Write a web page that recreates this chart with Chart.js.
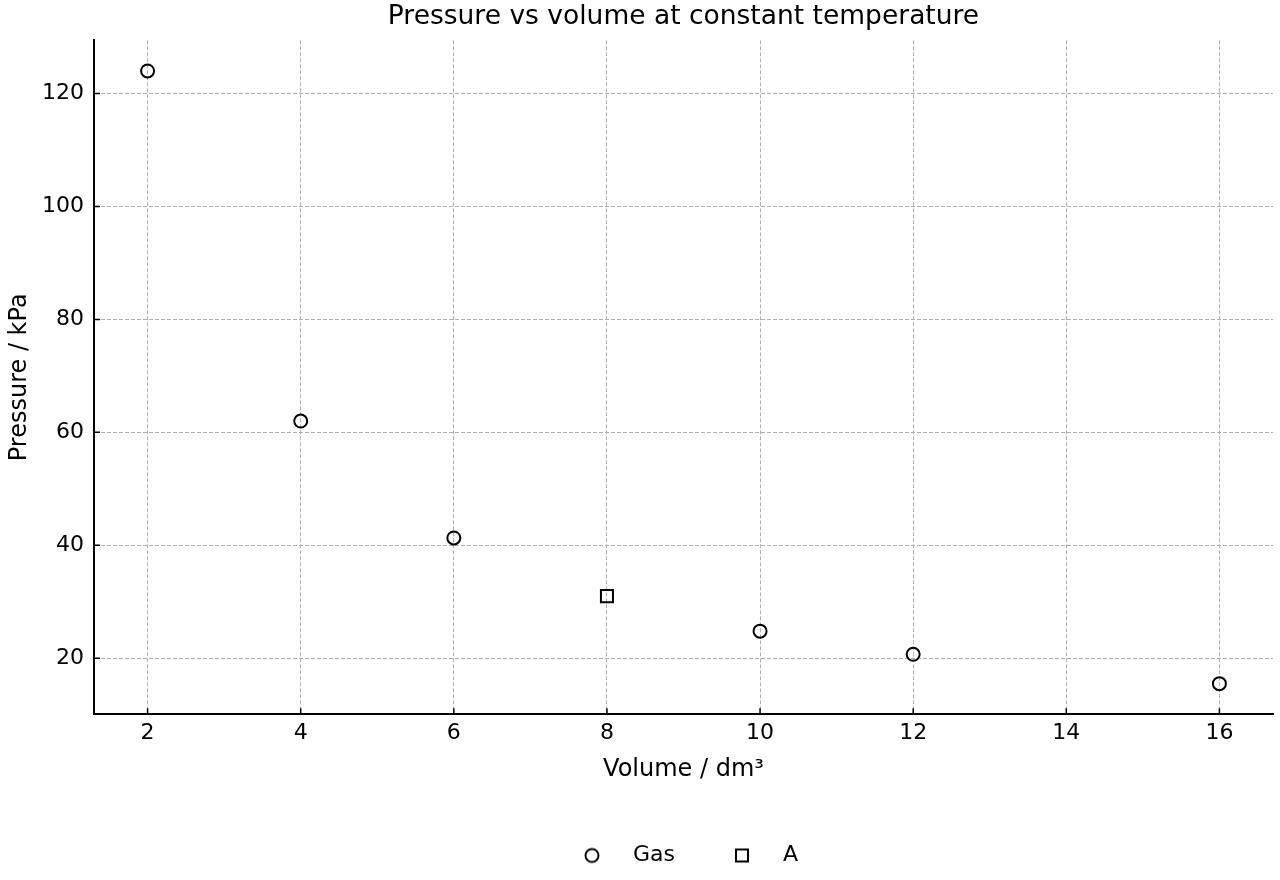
<!DOCTYPE html>
<html>
<head>
<meta charset="utf-8">
<title>Pressure vs volume</title>
<script src="https://cdn.jsdelivr.net/npm/chart.js@4/dist/chart.umd.min.js"></script>
<style>
  html, body { margin: 0; padding: 0; background: #fff; }
  #wrap { width: 1280px; height: 880px; }
</style>
</head>
<body>
<div id="wrap"><canvas id="chart" width="1280" height="880"></canvas></div>
<script>
// data
const volumes = [2, 4, 6, 10, 12, 16];
const pressures = [124, 62, 41.3, 24.8, 20.7, 15.5];
const pointAVolume = [8];
const pointAPressure = [31];
const xTickValues = [2, 4, 6, 8, 10, 12, 14, 16];
const yTickValues = [20, 40, 60, 80, 100, 120];

(function(){
    "use strict";

    const font = 'DejaVu Sans';

    // small marker images for the legend
    function markerImage(shape) {
        const c = document.createElement('canvas');
        c.width = 18; c.height = 18;
        const g = c.getContext('2d');
        g.strokeStyle = '#000';
        g.lineWidth = 2;
        g.beginPath();
        if (shape === 'circle') {
            g.arc(9, 9, 6.5, 0, Math.PI * 2);
        } else {
            g.rect(3, 3, 12, 12);
        }
        g.stroke();
        return c;
    }
    const legendCircle = markerImage('circle');
    const legendSquare = markerImage('square');

    // center title and legend over the plot area, like the original
    const centerOnPlot = {
        id: 'centerOnPlot',
        afterLayout(chart) {
            const a = chart.chartArea;
            const t = chart.titleBlock, l = chart.legend;
            if (t) { t.left = a.left; t.right = a.right; t.width = a.right - a.left; }
            if (l) { l.left = a.left - 7; l.right = a.right; l.width = l.right - l.left; }
        }
    };

    // matplotlib style ticks pointing into the plot
    const inwardTicks = {
        id: 'inwardTicks',
        afterDraw(chart) {
            const ctx = chart.ctx;
            const x = chart.scales.x, y = chart.scales.y;
            const area = chart.chartArea;
            ctx.save();
            ctx.strokeStyle = '#000';
            ctx.lineWidth = 1.5;
            ctx.beginPath();
            x.ticks.forEach(t => {
                const px = x.getPixelForValue(t.value);
                ctx.moveTo(px, area.bottom);
                ctx.lineTo(px, area.bottom - 6);
            });
            y.ticks.forEach(t => {
                const py = y.getPixelForValue(t.value);
                ctx.moveTo(area.left, py);
                ctx.lineTo(area.left + 6, py);
            });
            ctx.stroke();
            ctx.restore();
        }
    };

    const gasPoints = volumes.map((v, i) => ({ x: v, y: pressures[i] }));
    const aPoints = pointAVolume.map((v, i) => ({ x: v, y: pointAPressure[i] }));

    new Chart(document.getElementById('chart'), {
        type: 'scatter',
        data: {
            datasets: [{
                label: 'Gas',
                data: gasPoints,
                pointStyle: 'circle',
                pointRadius: 6.5,
                pointHoverRadius: 6.5,
                borderWidth: 2,
                borderColor: '#000',
                backgroundColor: 'rgba(0,0,0,0)'
            }, {
                label: 'A',
                data: aPoints,
                pointStyle: 'rect',
                pointRadius: 8.5,
                pointHoverRadius: 8.5,
                borderWidth: 2,
                borderColor: '#000',
                backgroundColor: 'rgba(0,0,0,0)'
            }]
        },
        options: {
            responsive: false,
            animation: false,
            layout: { autoPadding: false, padding: { left: 0, right: 7, top: 0, bottom: 3.5 } },
            plugins: {
                tooltip: { enabled: false },
                title: {
                    display: true,
                    text: 'Pressure vs volume at constant temperature',
                    color: '#000',
                    font: { family: font, size: 26.5, weight: 'normal' },
                    padding: { top: 1.5, bottom: 7 }
                },
                legend: {
                    position: 'bottom',
                    labels: {
                        color: '#000',
                        font: { family: font, size: 22 },
                        usePointStyle: true,
                        pointStyleWidth: 60,
                        padding: 37,
                        generateLabels: function(chart) {
                            return chart.data.datasets.map((ds, i) => ({
                                text: ds.label,
                                datasetIndex: i,
                                pointStyle: i === 0 ? legendCircle : legendSquare,
                                fontColor: '#000',
                                hidden: false,
                                lineWidth: 0
                            }));
                        }
                    }
                }
            },
            scales: {
                x: {
                    type: 'linear',
                    min: 1.3,
                    max: 16.7,
                    afterBuildTicks: s => { s.ticks = xTickValues.map(v => ({ value: v })); },
                    afterFit: s => { s.paddingLeft = 0; s.paddingRight = 0; },
                    grid: { color: '#b0b0b0', lineWidth: 1, drawTicks: false },
                    border: { display: true, color: '#000', width: 2, dash: [4, 2] },
                    ticks: { color: '#000', font: { family: font, size: 22 }, padding: 6, maxRotation: 0 },
                    title: {
                        display: true,
                        text: 'Volume / dm³',
                        color: '#000',
                        font: { family: font, size: 24 },
                        padding: { top: 3, bottom: 23 }
                    }
                },
                y: {
                    type: 'linear',
                    min: 10.075,
                    max: 129.425,
                    afterBuildTicks: s => { s.ticks = yTickValues.map(v => ({ value: v })); },
                    afterFit: s => { s.width = 94; },
                    grid: { color: '#b0b0b0', lineWidth: 1, drawTicks: false },
                    border: { display: true, color: '#000', width: 2, dash: [4, 2] },
                    ticks: { color: '#000', font: { family: font, size: 22 }, padding: 10 },
                    title: {
                        display: true,
                        text: 'Pressure / kPa',
                        color: '#000',
                        font: { family: font, size: 24 },
                        padding: { top: 5, bottom: 8 }
                    }
                }
            }
        },
        plugins: [centerOnPlot, inwardTicks]
    });
})();
</script>
</body>
</html>
